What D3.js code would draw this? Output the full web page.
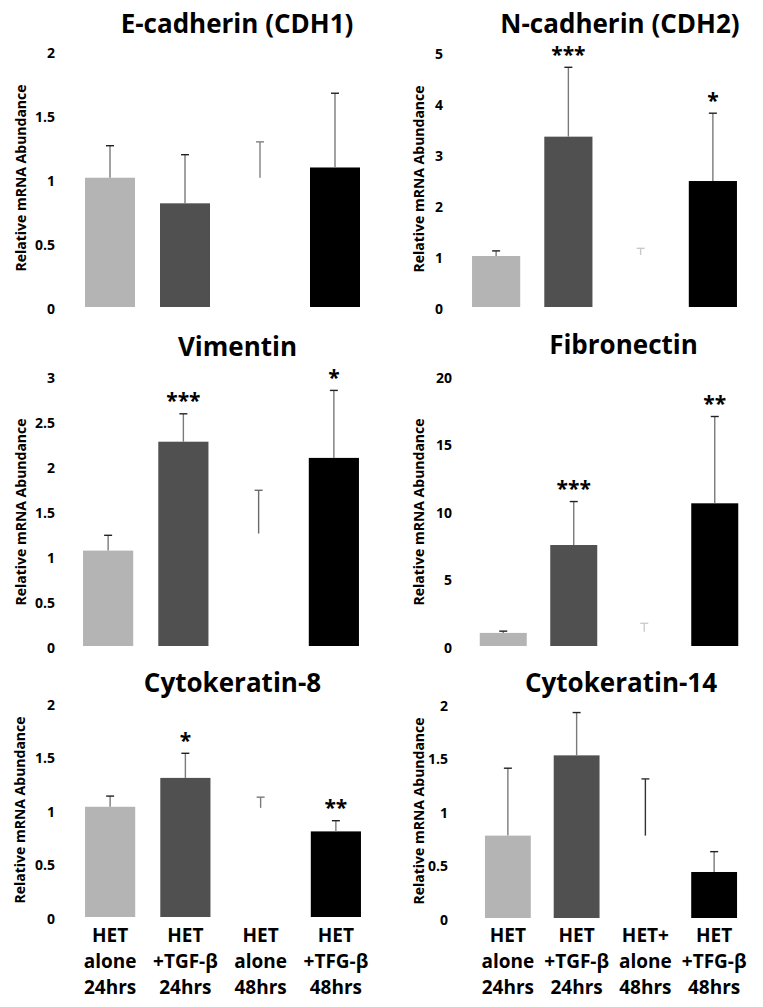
<!DOCTYPE html>
<html><head><meta charset="utf-8">
<script src="https://cdn.jsdelivr.net/npm/d3@7"></script>
<style>body{margin:0;background:#fff}</style>
</head><body>
<svg id="c" width="763" height="1007"></svg>
<script>
// ---------- DATA ----------
const categories = ["HET alone 24hrs", "HET +TGF-β 24hrs", "HET alone 48hrs", "HET +TFG-β 48hrs"];
const xLabelsLeft  = [["HET","alone","24hrs"],["HET","+TGF-β","24hrs"],["HET","alone","48hrs"],["HET","+TFG-β","48hrs"]];
const xLabelsRight = [["HET","alone","24hrs"],["HET","+TGF-β","24hrs"],["HET+","alone","48hrs"],["HET","+TFG-β","48hrs"]];
const titles = ["E-cadherin (CDH1)", "N-cadherin (CDH2)", "Vimentin", "Fibronectin", "Cytokeratin-8", "Cytokeratin-14"];
const yAxisTitle = "Relative mRNA Abundance";
const yMax  = [2, 5, 3, 20, 2, 2];
const yStep = [0.5, 1, 0.5, 5, 0.5, 0.5];

const ecadMean = [1.01, 0.81, 1.01, 1.09],  ecadErrTop = [1.26, 1.19, 1.29, 1.67];
const ncadMean = [1.00, 3.34, 1.02, 2.47],  ncadErrTop = [1.10, 4.70, 1.15, 3.80];
const vimMean  = [1.06, 2.27, 1.25, 2.09],  vimErrTop  = [1.23, 2.58, 1.73, 2.84];
const fibMean  = [0.97, 7.48, 1.05, 10.57], fibErrTop  = [1.10, 10.70, 1.68, 17.00];
const ck8Mean  = [1.03, 1.30, 1.02, 0.80],  ck8ErrTop  = [1.13, 1.53, 1.12, 0.90];
const ck14Mean = [0.77, 1.52, 0.77, 0.43],  ck14ErrTop = [1.40, 1.92, 1.30, 0.62];

const ecadSig = ["", "", "", ""];
const ncadSig = ["", "***", "", "*"];
const vimSig  = ["", "***", "", "*"];
const fibSig  = ["", "***", "", "**"];
const ck8Sig  = ["", "*", "", "**"];
const ck14Sig = ["", "", "", ""];

const means   = [ecadMean, ncadMean, vimMean, fibMean, ck8Mean, ck14Mean];
const errTops = [ecadErrTop, ncadErrTop, vimErrTop, fibErrTop, ck8ErrTop, ck14ErrTop];
const sigs    = [ecadSig, ncadSig, vimSig, fibSig, ck8Sig, ck14Sig];

// ---------- LAYOUT / STYLE ----------
const layout = [
  {x:[72.5,372.5], y:[307,51],  tickX:55,  ytX:21,  ytY:178, tX:237,   tY:33,  xl:null},
  {x:[460,749],    y:[307,52],  tickX:443, ytX:419, ytY:179, tX:620,   tY:33,  xl:null},
  {x:[70.5,371.5], y:[646,376], tickX:55,  ytX:21,  ytY:512, tX:237.5, tY:356, xl:null},
  {x:[468,750],    y:[646,376], tickX:452, ytX:419, ytY:512, tX:623.5, tY:354, xl:null},
  {x:[72.5,373.5], y:[917,703], tickX:55,  ytX:20,  ytY:810, tX:232.5, tY:692, xl:"left"},
  {x:[473.5,748.5],y:[918,704], tickX:448, ytX:419, ytY:811, tX:621,   tY:692, xl:"right"}
];
const barColors = ["#b4b4b4", "#505050", "#ffffff", "#000000"];
const ghostErrColor = ["#808080", "#c8c8c8", "#6a6a6a", "#cccccc", "#7a7a7a", "#333333"];
const FONT = "'Open Sans', sans-serif";

const svg = d3.select("#c");

titles.forEach((title, p) => {
  const L = layout[p];
  const g = svg.append("g");
  const x = d3.scaleBand().domain(categories).range(L.x).paddingInner(1/3).paddingOuter(1/6);
  const y = d3.scaleLinear().domain([0, yMax[p]]).range(L.y);

  // title
  g.append("text").attr("x", L.tX).attr("y", L.tY).attr("text-anchor", "middle")
    .style("font-family", FONT).style("font-weight", "700").style("font-size", "26px")
    .text(title);

  // y axis
  const ticks = d3.range(0, yMax[p] + yStep[p] / 2, yStep[p]);
  const ax = g.append("g").attr("transform", `translate(${L.tickX},0)`)
    .call(d3.axisLeft(y).tickValues(ticks).tickSize(0).tickPadding(0).tickFormat(d3.format("~g")));
  ax.select(".domain").remove();
  ax.selectAll("text").attr("dy", "0.45em")
    .style("font-family", FONT).style("font-weight", "700").style("font-size", "14px").attr("fill", "#000");

  // y title
  g.append("text").attr("transform", `translate(${L.ytX},${L.ytY}) rotate(-90)`)
    .attr("text-anchor", "middle").attr("dy", "0.35em")
    .style("font-family", FONT).style("font-weight", "700").style("font-size", "14px")
    .text(yAxisTitle);

  const data = categories.map((c, i) => ({c, i, m: means[p][i], e: errTops[p][i], s: sigs[p][i]}));

  // bars
  g.selectAll("rect.bar").data(data).enter().append("rect")
    .attr("x", d => x(d.c)).attr("width", x.bandwidth())
    .attr("y", d => y(d.m)).attr("height", d => y(0) - y(d.m))
    .attr("fill", d => barColors[d.i]);

  // error bars (upper only)
  const cx = d => x(d.c) + x.bandwidth() / 2;
  g.selectAll("line.stem").data(data).enter().append("line")
    .attr("x1", cx).attr("x2", cx).attr("y1", d => y(d.m)).attr("y2", d => y(d.e))
    .attr("stroke", d => d.i === 2 ? ghostErrColor[p] : "#7a7a7a").attr("stroke-width", 1.4);
  g.selectAll("line.cap").data(data).enter().append("line")
    .attr("x1", d => cx(d) - 4).attr("x2", d => cx(d) + 4).attr("y1", d => y(d.e)).attr("y2", d => y(d.e))
    .attr("stroke", d => d.i === 2 ? ghostErrColor[p] : "#222").attr("stroke-width", 1.4);

  // significance stars
  g.selectAll("text.sig").data(data.filter(d => d.s)).enter().append("text")
    .attr("x", cx).attr("y", d => y(d.e) - 17).attr("dy", "0.55em")
    .attr("text-anchor", "middle")
    .style("font-family", FONT).style("font-weight", "700").style("font-size", "21px")
    .text(d => d.s);

  // x labels
  if (L.xl) {
    const labs = L.xl === "left" ? xLabelsLeft : xLabelsRight;
    categories.forEach((c, i) => {
      labs[i].forEach((line, k) => {
        g.append("text").attr("x", x(c) + x.bandwidth() / 2).attr("y", 942 + k * 26)
          .attr("text-anchor", "middle")
          .style("font-family", FONT).style("font-weight", "700").style("font-size", "19px")
          .text(line);
      });
    });
  }
});
</script>
</body></html>
